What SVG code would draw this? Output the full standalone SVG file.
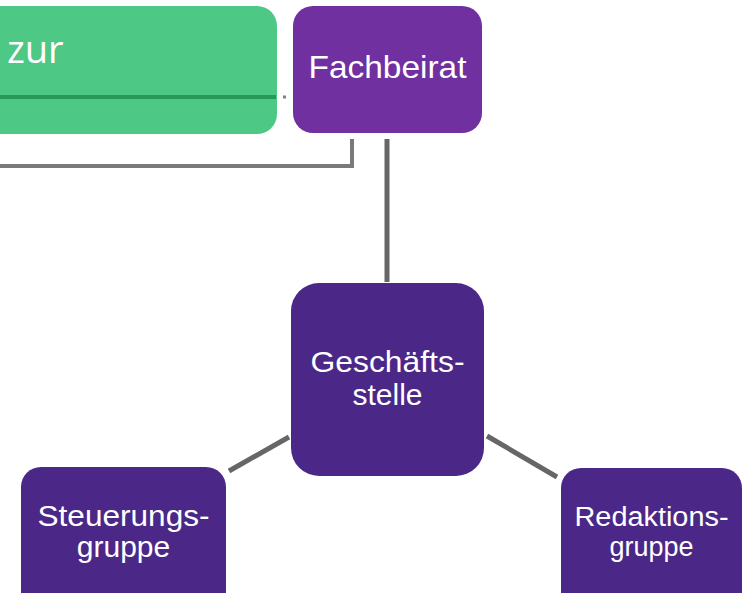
<svg xmlns="http://www.w3.org/2000/svg" width="744" height="593" viewBox="0 0 744 593">
<style>
.lbl{font-family:"Liberation Sans",Arial,sans-serif;fill:#fff;text-anchor:middle}
.con{stroke:#666;stroke-width:5;fill:none}
</style>
<rect width="744" height="593" fill="#fff"/>
<g id="green">
<rect x="-30" y="6" width="307" height="128" rx="20" fill="#4DC885"/>
<line x1="0" y1="97" x2="276" y2="97" stroke="#25985A" stroke-width="4"/>
<text x="7" y="63" font-family="'Open Sans',sans-serif" font-size="38" fill="#fff">zur</text>
</g>
<g id="connectors">
<rect x="283" y="95.5" width="3" height="3" fill="#808080"/>
<polyline points="0,166 352,166 352,139" stroke="#7a7a7a" stroke-width="4" fill="none"/>
<line class="con" x1="387" y1="139" x2="387" y2="282"/>
<line class="con" x1="229" y1="471" x2="289" y2="437"/>
<line class="con" x1="487" y1="436" x2="557" y2="477"/>
</g>
<g id="fachbeirat">
<rect x="293" y="6" width="189" height="127" rx="20" fill="#7030A0"/>
<text class="lbl" x="387.5" y="78" font-size="32" textLength="158" lengthAdjust="spacingAndGlyphs">Fachbeirat</text>
</g>
<g id="geschaeftsstelle">
<rect x="291" y="283" width="193" height="193" rx="28" fill="#4B2888"/>
<text class="lbl" x="387.5" y="372" font-size="30" textLength="154" lengthAdjust="spacingAndGlyphs">Geschäfts-</text>
<text class="lbl" x="387.5" y="405" font-size="30">stelle</text>
</g>
<g id="steuerungsgruppe">
<rect x="21" y="467" width="205" height="150" rx="20" fill="#4B2888"/>
<text class="lbl" x="123.5" y="526" font-size="30" textLength="172" lengthAdjust="spacingAndGlyphs">Steuerungs-</text>
<text class="lbl" x="123.5" y="557" font-size="30">gruppe</text>
</g>
<g id="redaktionsgruppe">
<rect x="561" y="468" width="181" height="150" rx="20" fill="#4B2888"/>
<text class="lbl" x="651.5" y="526" font-size="27" textLength="154" lengthAdjust="spacingAndGlyphs">Redaktions-</text>
<text class="lbl" x="651.5" y="556" font-size="27">gruppe</text>
</g>
</svg>
